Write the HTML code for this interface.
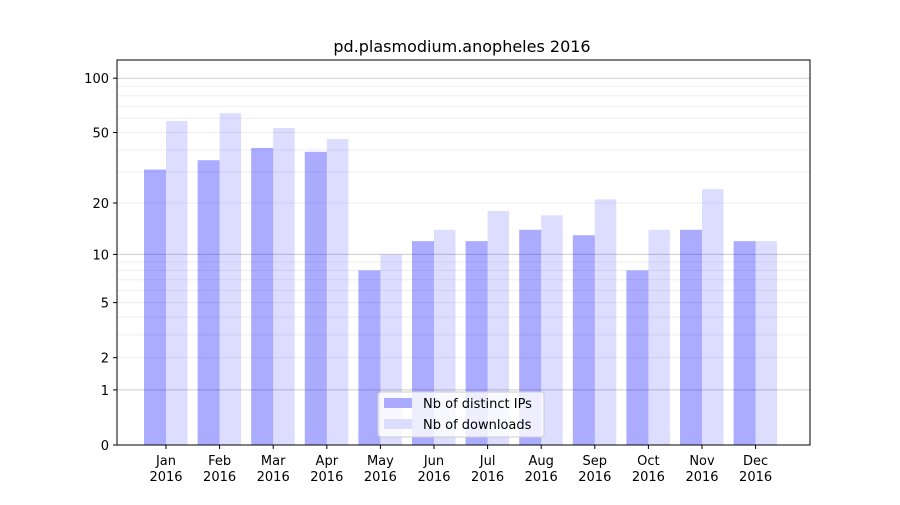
<!DOCTYPE html>
<html><head><meta charset="utf-8"><style>
body{margin:0;background:#fff;font-family:"Liberation Sans","DejaVu Sans",sans-serif;}
svg text{font-family:"DejaVu Sans","Liberation Sans",sans-serif;}
</style></head><body>
<svg id="chart" width="900" height="500" xmlns="http://www.w3.org/2000/svg">
<rect width="900" height="500" fill="#fff"/>
<text x="462" y="52" font-size="16" text-anchor="middle">pd.plasmodium.anopheles 2016</text>
<g id="grid"></g><g id="bars"></g><g id="axes"></g>
</svg>
<script>
const months=["Jan","Feb","Mar","Apr","May","Jun","Jul","Aug","Sep","Oct","Nov","Dec"];
const ips=[31,35,41,39,8,12,12,14,13,8,14,12];
const downloads=[58,64,53,46,10,14,18,17,21,14,24,12];
const yTicks=[0,1,2,5,10,20,50,100];
const minorTicks=[2,3,4,5,6,7,8,9,20,30,40,50,60,70,80,90];
const NS="http://www.w3.org/2000/svg";
const L=117,R=810,T=60,B=445,K=183;
function y(v){return B-K*Math.log10(1+v);}
function xc(i){return 166+i*53.6;}
function mk(tag,attrs,parent){const e=document.createElementNS(NS,tag);for(const k in attrs)e.setAttribute(k,attrs[k]);parent.appendChild(e);return e;}
const grid=document.getElementById('grid'),bars=document.getElementById('bars'),axes=document.getElementById('axes');
minorTicks.forEach(v=>{const l=mk('line',{x1:L,x2:R,y1:y(v),y2:y(v),stroke:'#eeeeee','stroke-width':1},grid);

});
[1,10,100].forEach(v=>{const l=mk('line',{x1:L,x2:R,y1:y(v),y2:y(v),stroke:'#cccccc','stroke-width':1},grid);

});
months.forEach((m,i)=>{
 const b1=mk('rect',{x:xc(i)-22,y:y(ips[i]),width:22,height:B-y(ips[i]),fill:'#0000ff','fill-opacity':0.33},bars);
 
 
 const b2=mk('rect',{x:xc(i),y:y(downloads[i]),width:21.5,height:B-y(downloads[i]),fill:'#0000ff','fill-opacity':0.133},bars);
 
 
 mk('line',{x1:xc(i),x2:xc(i),y1:B,y2:B+4,stroke:'#000'},axes);
 const t=mk('text',{x:xc(i),y:B+20,'font-size':13,'text-anchor':'middle'},axes);
 t.textContent=m;
 
 
 const t2=mk('text',{x:xc(i),y:B+36,'font-size':13,'text-anchor':'middle'},axes);
 t2.textContent='2016';
 
 
});
yTicks.forEach(v=>{
 mk('line',{x1:L-4,x2:L,y1:y(v),y2:y(v),stroke:'#000'},axes);
 const t=mk('text',{x:L-8,y:y(v)+5,'font-size':13,'text-anchor':'end'},axes);
 t.textContent=v;
 
 
});
const fr=mk('rect',{x:L,y:T,width:R-L,height:B-T,fill:'none',stroke:'#000','stroke-width':1},axes);


const lg=mk('g',{},axes);


mk('rect',{x:378,y:392,width:166,height:45,fill:'#fff','fill-opacity':0.8,stroke:'#cccccc',rx:3},lg);
mk('rect',{x:384,y:398,width:28,height:10,fill:'#aaaaff'},lg);
mk('rect',{x:384,y:419,width:28,height:10,fill:'#ddddff'},lg);
const l1=mk('text',{x:423,y:408,'font-size':13},lg);l1.textContent='Nb of distinct IPs';


const l2=mk('text',{x:423,y:429,'font-size':13},lg);l2.textContent='Nb of downloads';


</script>
</body></html>
